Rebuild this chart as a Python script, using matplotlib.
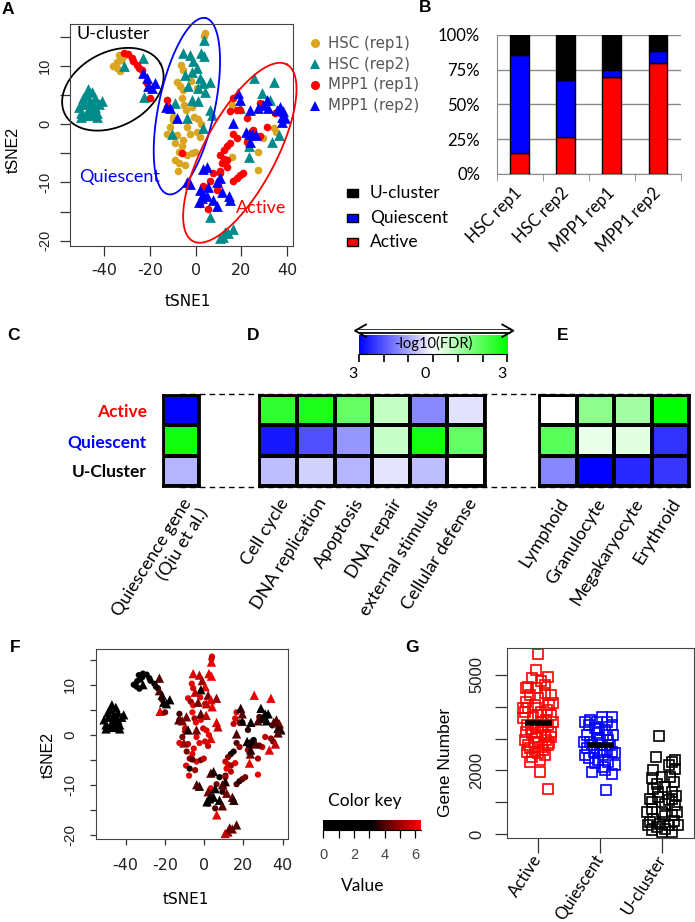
import numpy as np
import matplotlib
matplotlib.use('Agg')
import matplotlib.pyplot as plt
from matplotlib.colors import LinearSegmentedColormap
from matplotlib.lines import Line2D
from matplotlib.patches import Rectangle

# ---------------- data ----------------
# panel A / F: tSNE coordinates (x, y, colour-key value)
HSC_REP1 = [(-35.9, 10, 1), (-34.1, 10.7, 1.5), (-32.7, 11, 0.8), (-33.3, 11.9, 1), (-33, 9.2, 1.2),
            (-34.4, 9.6, 0.5), (-31.5, 11.5, 2),
            (4, 15.6, 6), (3.7, 15.1, 5.5), (-6.3, 10.2, 6), (-5.6, 9.3, 5.8), (-8.2, 7.3, 6), (-6.8, 6.6, 5),
            (-5.6, 5.9, 6), (-6, 4.5, 6.2), (0.5, 6.2, 5.5), (-4.9, 3.3, 5), (-4.2, 2.5, 6), (-1.7, 3, 6),
            (-0.5, 1.3, 5.5), (1.2, 0.9, 6), (2.4, 0, 6.2), (-9.7, 0.7, 5), (-11.1, -0.4, 4.5), (-12.6, -1.6, 6),
            (-8.2, -1.8, 5.5), (-5.3, -2.7, 6), (-2.4, -1.6, 6), (0.5, -1.3, 5.8), (-8.9, -3.3, 4.5), (-6, -3.8, 6),
            (-7.4, -4.7, 5), (-3.8, -5.3, 6), (-1.7, -5, 4.2), (-0.2, -4.7, 5.5), (-9.2, -6.1, 6), (-7.4, -6.7, 2.5),
            (-4.6, -7, 5), (-7.7, -8.1, 6), (-9.7, 1.3, 5.5), (-3.9, -0.4, 6), (2, -2.2, 5.5), (-2, 7.5, 6),
            (15.8, 3.3, 6), (34, -0.7, 5), (35.1, -1.3, 4.5), (29.6, -2.4, 5.5), (27.4, -4.7, 5), (15.8, -5.6, 6),
            (27.4, -7.9, 6)]
HSC_REP2 = [(-50, 2, 0.3), (-49, 3.5, 0.2), (-48, 5, 0.4), (-47, 2.5, 0.3), (-46, 4, 0.2), (-46, 1.5, 0.5),
            (-45, 5.5, 0.3), (-44, 3, 0.4), (-43, 2, 0.2), (-48, 1.5, 0.3), (-51, 3, 0.5), (-47, 6, 0.3),
            (-45, 2.5, 0.2), (-44, 4.5, 0.4), (-42, 3.5, 0.3), (-41, 4, 0.2), (-49, 4.5, 0.4), (-46, 3, 0.3),
            (-43, 1.2, 0.2), (-50, 1.2, 0.3),
            (-22.8, 11.3, 4), (-31.2, 10, 1), (-22.5, 4.7, 6),
            (3.7, 14.5, 6), (-5.6, 12.2, 6), (-2.4, 11.9, 5.5), (2.4, 12.2, 6), (3.7, 11.7, 6.2), (-1, 10.8, 5),
            (0.5, 9.6, 6), (-1.7, 9, 1.5), (-4.6, 8.5, 5.5), (2, 7.9, 4.5), (3.4, 7, 6), (6.3, 7.3, 5),
            (-3.1, 6.5, 4.5), (1.2, 6.2, 5.5), (4.1, 5.6, 6), (-1.7, 4.2, 4), (1, 3.9, 5.5), (-9, 3.6, 4.5),
            (6.3, 2.5, 6), (7, 1.6, 5.5), (-3.9, 1, 4.5), (3.4, -0.7, 6), (-10.3, -1.6, 5),
            (25.5, 7.9, 6), (34, 7.3, 6), (28.9, 5.3, 1.5), (32.6, 4.2, 3), (19.4, 2.7, 4), (36.3, -1.8, 5.5),
            (33.2, -3, 6), (23.5, -3.8, 4.5), (23.1, -5.6, 6), (6.4, -15.9, 6), (12.1, -19.3, 5),
            (14.3, -18.7, 4.5), (16.5, -17.9, 4), (10.7, -19.6, 5.5), (13, -18.5, 4.2)]
MPP1_REP1 = [(-31.2, 12.2, 3), (-29.3, 12, 1), (-27.9, 11.3, 0.8), (-27.4, 10.8, 1.2), (-25.4, 10.2, 2),
             (-24.6, 9.6, 3.5), (-23.6, 9.3, 3), (-21.4, 7, 4), (-19.9, 4.5, 4.5),
             (-12.6, 3, 4), (-12.6, 4.2, 3.8), (-6, -4.9, 4),
             (16.5, 4.5, 6), (18, 2.5, 4.5), (19.4, 2.5, 3), (28.1, 3.6, 4), (22.3, 1, 3.5), (16.5, -1.6, 4),
             (18, -2.4, 5), (15, -3.3, 3.5), (13.6, -3.8, 2.5), (12.2, -4.4, 4.5), (10.8, -5.3, 5.5),
             (12.2, -5.9, 6), (13.6, -6.1, 5), (11.4, -6.7, 6), (13.6, -7.3, 5.5), (10.8, -8.1, 4),
             (16.5, -9.8, 4), (18, -9.2, 3.5), (19.4, -8.8, 4), (20.9, -8.4, 4.5), (7.8, -8.4, 3),
             (6.3, -9.8, 4.5), (3.4, -10.6, 6), (2, -13.7, 5), (5.6, -14.6, 4), (9.3, -11.3, 3.5),
             (28.1, -2.1, 4.5), (31.1, -0.4, 5.5), (34.7, 1.9, 3.5), (22.3, -3, 5), (25.2, -1, 3),
             (15, 2.2, 5.5), (10.8, -8.4, 5), (9.9, -10.4, 4)]
MPP1_REP2 = [(-22.8, 8.8, 4), (-21.4, 7.9, 3.5), (-19.2, 6.2, 1), (-17.5, 7, 2), (-20.6, 6.5, 3),
             (-12.9, 3, 4), (-8.2, 1, 3.5), (-11.1, 2.8, 4.5),
             (-2.4, -10.2, 3.5), (3.4, -7.6, 4), (4.8, -7.3, 3.5), (2, -11.3, 4.5), (3.4, -11.9, 4),
             (4.8, -12.4, 2), (5.6, -10.7, 1.5), (7.8, -13, 3), (9.3, -14.1, 4), (10.8, -9.3, 3.5),
             (9.3, -9.9, 4), (11.5, -11.6, 4.5), (14.4, -12.4, 4), (15.1, -13, 3.5), (2.7, -12.7, 2.5),
             (1.4, -13.3, 3), (16.5, 0.2, 4), (18.6, 5.3, 3.5), (19.4, 4.2, 4), (21.9, -1.3, 3),
             (23.4, -1.6, 3.5), (24.8, -1.6, 2.5), (26.3, -1.8, 4), (23.7, -3, 3.5), (23.8, 2.5, 3),
             (27.4, 2.8, 4), (29.6, 3.3, 3.5), (31.1, 4.2, 2), (31.8, 2.8, 1.5), (36.8, 3, 4),
             (38.3, 2.2, 4.5), (37.6, 1.3, 3.5), (35.4, 2.5, 4), (39.1, 1, 3.5), (37.6, 0.4, 4),
             (-3.8, -9.9, 4)]
A_LABELS = ['HSC (rep1)', 'HSC (rep2)', 'MPP1 (rep1)', 'MPP1 (rep2)']

# panel B: percent of cells per cluster
B_SAMPLES = ['HSC rep1', 'HSC rep2', 'MPP1 rep1', 'MPP1 rep2']
B_ACTIVE = [15.3, 26.6, 69.6, 79.9]
B_QUIESCENT = [70.1, 40.9, 5.3, 8.1]
B_UCLUSTER = [14.6, 32.5, 25.1, 12.0]

# panels C-E: -log10(FDR), signed
ROWS = ['Active', 'Quiescent', 'U-Cluster']
C_LABELS = ['Quiescence gene\n(Qiu et al.)']
C_VALUES = [[-3.0], [2.8], [-0.88]]
D_LABELS = ['Cell cycle', 'DNA replication', 'Apoptosis', 'DNA repair', 'external stimulus', 'Cellular defense']
D_VALUES = [[2.4, 2.65, 1.8, 0.7, -1.4, -0.35],
            [-2.7, -2.06, -1.24, 0.65, 2.76, 1.82],
            [-0.76, -0.53, -0.88, -0.32, -0.76, 0.0]]
E_LABELS = ['Lymphoid', 'Granulocyte', 'Megakaryocyte', 'Erythroid']
E_VALUES = [[0.0, 1.35, 1.06, 3.0],
            [1.94, 0.24, 0.35, -2.41],
            [-1.41, -3.0, -2.53, -2.35]]

# panel G: (jitter, gene number)
G_GROUPS = ['Active', 'Quiescent', 'U-cluster']
G_ACTIVE = [(0, 5640), (-0.03, 5150), (0.15, 4940), (-0.16, 4625), (-0.2, 4570), (0.04, 4800), (0.1, 4420),
            (0.2, 4370), (-0.1, 4900), (-0.2, 4160), (0, 4260), (0.18, 4050), (-0.16, 3950), (0.04, 3840),
            (-0.21, 3840), (0.2, 3740), (-0.08, 3690), (0.12, 3580), (-0.19, 3430), (0, 3320), (0.2, 3220),
            (-0.1, 3170), (0.1, 3110), (-0.21, 2960), (0, 2900), (0.18, 2850), (-0.13, 2690), (0.08, 2640),
            (-0.18, 2590), (0, 2540), (0.16, 2800), (-0.1, 2430), (0.03, 2330), (-0.13, 2280), (0.03, 1960),
            (0.15, 1420), (-0.05, 4050), (0.04, 3530), (-0.05, 3430), (0.15, 3430), (-0.2, 3220),
            (-0.02, 3060), (0.12, 2960), (-0.24, 3640), (0.23, 3530), (-0.16, 2800), (0.06, 2740),
            (-0.02, 4570), (0.1, 4680), (-0.13, 4370), (0.23, 4100), (-0.24, 3950), (0, 3740), (0.2, 3060),
            (-0.05, 2590), (0.1, 2480), (0.14, 3900), (-0.12, 3300), (0.08, 3350), (-0.07, 2900)]
G_QUIESCENT = [(0.19, 3685), (-0.16, 3580), (0.03, 3685), (-0.19, 3430), (0.19, 3430), (-0.08, 3320),
               (0.08, 3270), (0.21, 3110), (-0.22, 3110), (-0.03, 3010), (0.13, 2960), (-0.16, 2900),
               (0.03, 2800), (-0.22, 2690), (0.19, 2590), (-0.11, 2590), (0.05, 2480), (-0.19, 2380),
               (-0.03, 2330), (0.13, 2280), (0.24, 2540), (0.08, 2010), (-0.14, 1960), (0.19, 1900),
               (0.09, 1400), (-0.25, 3530), (-0.05, 3530), (0.11, 3530), (-0.14, 2800), (-0.26, 2900),
               (0.16, 2800), (-0.05, 3160), (0.11, 3110), (0.0, 2590), (-0.24, 2480), (0.24, 2170),
               (-0.08, 2220), (0.05, 2120), (0.0, 2950), (-0.1, 2700), (0.1, 2650), (-0.02, 3300)]
G_UCLUSTER = [(-0.05, 3080), (-0.1, 2430), (0.15, 2280), (0.1, 2170), (-0.15, 2010), (0.2, 2330),
              (-0.17, 1750), (-0.01, 1800), (0.18, 1640), (0.04, 1490), (-0.15, 1430), (0.15, 1330),
              (-0.07, 1170), (-0.2, 1120), (0.1, 1070), (0.2, 910), (-0.17, 800), (-0.01, 700), (0.15, 590),
              (-0.2, 380), (-0.04, 330), (0.18, 430), (-0.17, 120), (0.04, 170), (0.15, 70), (-0.09, 220),
              (0.26, 280), (-0.25, 700), (0.04, 960), (-0.09, 1590), (0.12, 1800), (-0.23, 280), (0.1, 280),
              (-0.01, 70), (0.23, 700), (-0.15, 490), (-0.07, 1330), (0.15, 1120), (-0.17, 1010),
              (0.2, 2050), (0.22, 1200), (0.05, 560)]
G_MEDIANS = [3500, 2800]

# ---------------- layout helpers (pixel coordinates of a 695x922 canvas) ----------------
W, H = 695, 922
SANS = 'Liberation Sans'
WIDE = 'DejaVu Sans'
CAL = 'Lato'


def px_axes(fig, left, top, right, bottom):
    return fig.add_axes([left / W, 1 - bottom / H, (right - left) / W, (bottom - top) / H])


def ftext(fig, x, y, s, **kw):
    return fig.text(x / W, 1 - y / H, s, **kw)


def draw_ellipse(ax, cx, cy, a, b, ang, sx, sy, color):
    t = np.linspace(0, 2 * np.pi, 300)
    th = np.radians(ang)
    dx = a * np.cos(t) * np.cos(th) - b * np.sin(t) * np.sin(th)
    dy = a * np.cos(t) * np.sin(th) + b * np.sin(t) * np.cos(th)
    ax.plot(cx + dx / sx, cy + dy / sy, color=color, lw=1.3, clip_on=False)


def r_axes_style(ax, ylab_size, ylab_font, ylab_pad, tick_len):
    ax.set_xticks([-40, -20, 0, 20, 40])
    ax.set_xticklabels(['-40', '-20', '0', '20', '40'], family=WIDE, fontsize=11.5)
    ax.set_yticks([-20, -15, -10, -5, 0, 5, 10, 15])
    ax.set_yticklabels(['-20', '', '-10', '', '0', '', '10', ''], rotation=90, va='center',
                       family=ylab_font, fontsize=ylab_size)
    ax.tick_params(length=tick_len, width=0.9, color='#333333', labelcolor='#222222')
    ax.tick_params(axis='x', pad=5)
    ax.tick_params(axis='y', pad=ylab_pad)
    for sp in ax.spines.values():
        sp.set_color('#444444')


GOLD, TEAL, RED, BLUE = '#DAA520', '#008B8B', '#FF0000', '#0000FF'
groups = [(HSC_REP1, GOLD, 'o'), (HSC_REP2, TEAL, '^'), (MPP1_REP1, RED, 'o'), (MPP1_REP2, BLUE, '^')]

fig = plt.figure(figsize=(6.95, 9.22), dpi=100)

# ---------------- panel A ----------------
ax = px_axes(fig, 70, 24, 293, 246)
for pts, col, mk in groups:
    x, y, v = zip(*pts)
    ax.scatter(x, y, s=30 if mk == 'o' else 60, c=col, marker=mk, linewidths=0)
ax.set_xlim(-54.8, 42.5)
ax.set_ylim(-20.9, 17.2)
draw_ellipse(ax, -36.1, 6.0, 54, 37, 28, 2.2917, 5.822, 'black')
draw_ellipse(ax, -3.8, 3.1, 90, 28, 78, 2.2917, 5.822, 'blue')
draw_ellipse(ax, 19.3, -4.9, 100, 36, 62, 2.2917, 5.822, 'red')
ax.text(-36.1, 15.4, 'U-cluster', ha='center', va='center', fontsize=13, family=CAL)
ax.text(-33, -9.1, 'Quiescent', ha='center', va='center', fontsize=13, family=CAL, color='blue')
ax.text(28.5, -14.4, 'Active', ha='center', va='center', fontsize=13, family=CAL, color='red')
r_axes_style(ax, 10.5, SANS, 6, 7)
ftext(fig, 188, 301, 'tSNE1', ha='center', va='center', fontsize=11, family=WIDE)
ftext(fig, 13, 150, 'tSNE2', ha='center', va='center', fontsize=11.5, family=SANS, rotation=90)

# legend of A
for i, ((pts, col, mk), lab) in enumerate(zip(groups, A_LABELS)):
    yy = 43.5 + i * 20.7
    fig.add_artist(Line2D([315 / W], [1 - yy / H], marker=mk, color=col, markersize=6.5 if mk == 'o' else 7.5,
                          linestyle='none', markeredgewidth=0, transform=fig.transFigure))
    ftext(fig, 328, yy, lab, ha='left', va='center', fontsize=10.8, family=WIDE, color='#555555')

# ---------------- panel B ----------------
axb = px_axes(fig, 496.7, 34.7, 681, 174)
pos = np.arange(1, len(B_SAMPLES) + 1)
bottom2 = np.array(B_ACTIVE) + np.array(B_QUIESCENT)
axb.bar(pos, B_ACTIVE, width=0.41, color='#FF0000', edgecolor='black', lw=1, zorder=3)
axb.bar(pos, B_QUIESCENT, width=0.41, bottom=B_ACTIVE, color='#0000FF', edgecolor='black', lw=1, zorder=3)
axb.bar(pos, B_UCLUSTER, width=0.41, bottom=bottom2, color='#000000', edgecolor='black', lw=1, zorder=3)
axb.set_xlim(0.5, 4.5)
axb.set_ylim(0, 100)
axb.set_yticks([0, 25, 50, 75, 100])
axb.set_yticklabels(['0%', '25%', '50%', '75%', '100%'], family=CAL, fontsize=12)
axb.yaxis.grid(True, color='#8a8a8a', lw=1, zorder=0)
axb.set_xticks(pos)
axb.set_xticklabels(B_SAMPLES, rotation=45, ha='right', va='center', rotation_mode='anchor',
                    family=CAL, fontsize=12)
axb.set_xticks([0.5, 1.5, 2.5, 3.5, 4.5], minor=True)
axb.tick_params(axis='x', which='major', length=0, pad=12)
axb.tick_params(axis='x', which='minor', length=5, color='#8a8a8a')
axb.tick_params(axis='y', length=0, pad=12)
for s in ['top', 'right']:
    axb.spines[s].set_visible(False)
for s in ['left', 'bottom']:
    axb.spines[s].set_color('#8a8a8a')

for i, (lab, col) in enumerate(zip(['U-cluster', 'Quiescent', 'Active'], ['#000000', '#0000FF', '#FF0000'])):
    yy = 193 + i * 24.7
    fig.add_artist(Rectangle((347 / W, 1 - (yy + 4) / H), 11 / W, 8 / H, facecolor=col,
                             edgecolor='black', lw=1, transform=fig.transFigure))
    ftext(fig, 370, yy, lab, ha='left', va='center', fontsize=12.5, family=CAL)

# ---------------- panels C, D, E ----------------
hm_cmap = LinearSegmentedColormap.from_list('fdr', ['#0000FF', '#FFFFFF', '#00FF00'])
for yy in (394.3, 487.3):
    fig.add_artist(Line2D([180 / W, 689 / W], [1 - yy / H] * 2, color='black', lw=1,
                          linestyle=(0, (4, 3)), transform=fig.transFigure, zorder=-1))

hm_specs = [((163.3, 395, 199.3, 486), C_VALUES, C_LABELS),
            ((259.3, 395, 485, 486), D_VALUES, D_LABELS),
            ((539.3, 395, 689, 486), E_VALUES, E_LABELS)]
for k, (rect, vals, labs) in enumerate(hm_specs):
    axh = px_axes(fig, *rect)
    axh.pcolormesh(np.array(vals), cmap=hm_cmap, vmin=-3, vmax=3, edgecolors='black', linewidth=1.5)
    axh.set_xlim(0, len(labs))
    axh.set_ylim(3, 0)
    axh.set_xticks(np.arange(len(labs)) + 0.5)
    axh.set_xticklabels(labs, rotation=58, ha='right', va='top', rotation_mode='anchor',
                        family=CAL, fontsize=13, multialignment='right')
    axh.tick_params(axis='x', length=0, pad=7)
    for sp in axh.spines.values():
        sp.set_linewidth(2)
    if k == 0:
        axh.set_yticks([0.5, 1.5, 2.5])
        axh.set_yticklabels(ROWS, family=CAL, fontsize=12.5, fontweight='bold')
        for tl, col in zip(axh.get_yticklabels(), ['red', 'blue', 'black']):
            tl.set_color(col)
        axh.tick_params(axis='y', length=0, pad=12)
    else:
        axh.set_yticks([])

# colour bar for -log10(FDR)
axc = px_axes(fig, 359, 335, 507.3, 354)
axc.imshow(np.linspace(-3, 3, 256)[None, :], cmap=hm_cmap, aspect='auto', extent=[-3, 3, 0, 1])
axc.set_xlim(-3, 3)
axc.set_xticks(np.linspace(-3, 3, 7))
axc.set_xticklabels([])
axc.set_yticks([])
axc.tick_params(axis='x', length=6, width=1.2)
for s in ['top', 'left', 'right']:
    axc.spines[s].set_visible(False)
axc.text(0, 0.55, '-log10(FDR)', ha='center', va='center', fontsize=10.5, family=CAL)
# double-headed hollow arrow above the bar
fig.add_artist(Line2D([358 / W, 510 / W], [1 - 330.7 / H] * 2, color='black', lw=3.4,
                      solid_capstyle='butt', transform=fig.transFigure))
fig.add_artist(Line2D([358 / W, 510 / W], [1 - 330.7 / H] * 2, color='white', lw=1.6,
                      solid_capstyle='butt', transform=fig.transFigure))
for x_tip, x_back in [(355, 366), (513.3, 502.3)]:
    fig.add_artist(Line2D([x_back / W, x_tip / W, x_back / W],
                          [1 - 324.5 / H, 1 - 330.7 / H, 1 - 336.9 / H], color='black', lw=1.3,
                          transform=fig.transFigure))
for xx, s in [(353.3, '3'), (425, '0'), (501.7, '3')]:
    ftext(fig, xx, 374, s, ha='center', va='center', fontsize=11.5, family=CAL)

# ---------------- panel F ----------------
key_cmap = LinearSegmentedColormap.from_list('key', [(0, '#000000'), (0.5, '#000000'), (0.62, '#500000'),
                                                     (0.8, '#a00000'), (1, '#ff0000')])
axf = px_axes(fig, 96, 649, 288, 839)
for pts, col, mk in groups:
    x, y, v = zip(*pts)
    axf.scatter(x, y, s=20 if mk == 'o' else 45, c=v, cmap=key_cmap, vmin=0, vmax=6.37,
                marker=mk, linewidths=0)
axf.set_xlim(-55.1, 42.7)
axf.set_ylim(-20.7, 17.1)
r_axes_style(axf, 11, SANS, 9, 4.5)
axf.tick_params(axis='x', pad=9)
ftext(fig, 186, 899, 'tSNE1', ha='center', va='center', fontsize=11, family=WIDE)
ftext(fig, 48, 755, 'tSNE2', ha='center', va='center', fontsize=11.5, family=SANS, rotation=90)

# colour key
axk = px_axes(fig, 323.3, 820, 421, 830)
axk.imshow(np.linspace(0, 6.37, 256)[None, :], cmap=key_cmap, aspect='auto', extent=[0, 6.37, 0, 1],
           vmin=0, vmax=6.37)
axk.set_xlim(0, 6.37)
axk.set_xticks([0, 1, 2, 3, 4, 5, 6])
axk.set_xticklabels(['0', '', '2', '', '4', '', '6'], family=SANS, fontsize=10.5, color='#444444')
axk.set_yticks([])
axk.tick_params(axis='x', length=6, width=0.9, pad=7)
for s in ['top', 'left', 'right']:
    axk.spines[s].set_visible(False)
ftext(fig, 365, 801, 'Color key', ha='center', va='center', fontsize=12.5, family=CAL)
ftext(fig, 363, 886, 'Value', ha='center', va='center', fontsize=12.5, family=CAL)

# ---------------- panel G ----------------
axg = px_axes(fig, 506.7, 647.7, 694, 838.3)
for i, (pts, col) in enumerate(zip([G_ACTIVE, G_QUIESCENT, G_UCLUSTER], ['#FF0000', '#0000FF', '#000000'])):
    jit, val = zip(*pts)
    axg.plot(i + 1 + np.array(jit), val, 's', mfc='none', mec=col, ms=7.2, mew=1.2)
for i, med in enumerate(G_MEDIANS):
    axg.plot([i + 1 - 0.22, i + 1 + 0.22], [med, med], color='black', lw=4, solid_capstyle='butt')
axg.set_xlim(0.49, 3.51)
axg.set_ylim(-125, 5846)
axg.set_yticks([0, 1000, 2000, 3000, 4000, 5000])
axg.set_yticklabels(['0', '', '2000', '', '', '5000'], rotation=90, va='center', family=SANS, fontsize=12)
axg.set_xticks([1, 2, 3])
axg.set_xticklabels(G_GROUPS, rotation=57, ha='right', va='center', rotation_mode='anchor',
                    family=CAL, fontsize=12)
axg.tick_params(axis='y', length=9, width=0.9, pad=7, color='#333333', labelcolor='#222222')
axg.tick_params(axis='x', length=11, width=0.9, pad=2, color='#333333')
for sp in axg.spines.values():
    sp.set_color('#444444')
ftext(fig, 445, 762, 'Gene Number', ha='center', va='center', fontsize=12.5, family=SANS, rotation=90)

# panel letters
for lab, xx, yy in [('A', 8, 9), ('B', 425, 8), ('C', 13, 336), ('D', 253, 336), ('E', 563, 335),
                    ('F', 15, 648), ('G', 412, 648)]:
    ftext(fig, xx, yy, lab, ha='center', va='center', fontsize=12.5, family=SANS, fontweight='bold')

fig.savefig('out.png', dpi=100)
